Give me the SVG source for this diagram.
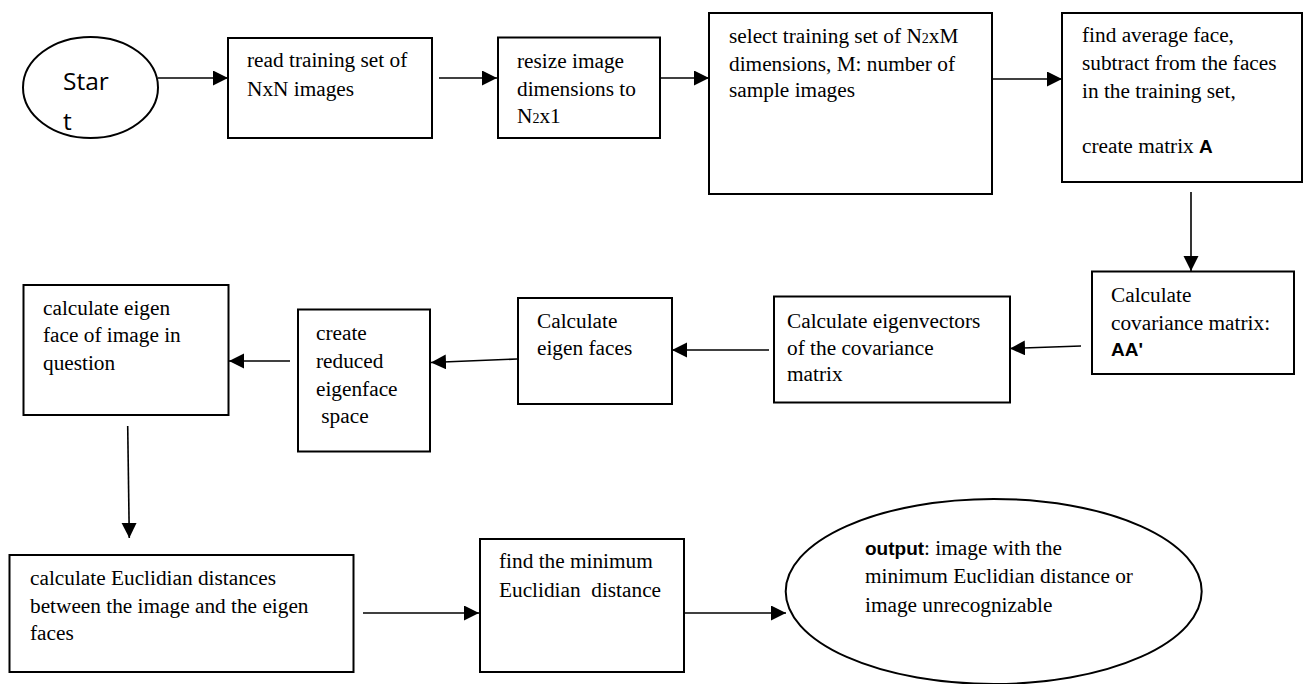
<svg xmlns="http://www.w3.org/2000/svg" width="1304" height="684" viewBox="0 0 1304 684">
<style>
.bg{fill:#ffffff}
.box{fill:#ffffff;stroke:#000;stroke-width:2}
.con{stroke:#000;stroke-width:1.6;fill:none}
.t{font-family:"Liberation Serif","Times New Roman",serif;font-size:21.3px;fill:#000;white-space:pre}
.s{font-family:"Open Sans","DejaVu Sans",sans-serif;font-size:24.5px;fill:#000}
.b{font-family:"Liberation Sans",Arial,sans-serif;font-weight:bold;font-size:19px}
.sub{font-size:14px}
</style>
<defs>
<marker id="ah" markerUnits="userSpaceOnUse" markerWidth="16" markerHeight="16" refX="15" refY="7.5" orient="auto">
<path d="M0,0 L15,7.5 L0,15 z" fill="#000"/>
</marker>
</defs>
<rect class="bg" x="0" y="0" width="1304" height="684"/>
<g id="connectors">
<line class="con" x1="158" y1="78" x2="228" y2="78" marker-end="url(#ah)"/>
<line class="con" x1="439" y1="78" x2="497" y2="78" marker-end="url(#ah)"/>
<line class="con" x1="660" y1="78" x2="709" y2="78" marker-end="url(#ah)"/>
<line class="con" x1="992" y1="79" x2="1062" y2="79" marker-end="url(#ah)"/>
<line class="con" x1="1191" y1="192" x2="1191" y2="271" marker-end="url(#ah)"/>
<line class="con" x1="1081" y1="346" x2="1010" y2="348.5" marker-end="url(#ah)"/>
<line class="con" x1="769" y1="350" x2="672" y2="350" marker-end="url(#ah)"/>
<line class="con" x1="517" y1="359" x2="431" y2="362.5" marker-end="url(#ah)"/>
<line class="con" x1="290" y1="361" x2="229" y2="361" marker-end="url(#ah)"/>
<line class="con" x1="127.7" y1="426" x2="129.3" y2="538" marker-end="url(#ah)"/>
<line class="con" x1="363" y1="613" x2="479" y2="613" marker-end="url(#ah)"/>
<line class="con" x1="684" y1="613" x2="786" y2="613" marker-end="url(#ah)"/>
</g>
<g id="start">
<ellipse class="box" cx="90.5" cy="87.5" rx="67.5" ry="50.5"/>
<text class="s" x="63" y="90">Star</text>
<text class="s" x="63" y="130">t</text>
</g>
<g id="read">
<rect class="box" x="228" y="38" width="204" height="100"/>
<text class="t" x="247" y="67">read training set of</text>
<text class="t" x="247" y="96">NxN images</text>
</g>
<g id="resize">
<rect class="box" x="498" y="37.5" width="162" height="100.5"/>
<text class="t" x="517" y="68">resize image</text>
<text class="t" x="517" y="96">dimensions to</text>
<text class="t" x="517" y="123">N<tspan class="sub">2</tspan>x1</text>
</g>
<g id="select">
<rect class="box" x="709" y="13" width="283" height="181"/>
<text class="t" x="729" y="43">select training set of N<tspan class="sub">2</tspan>xM</text>
<text class="t" x="729" y="70.5">dimensions, M: number of</text>
<text class="t" x="729" y="97">sample images</text>
</g>
<g id="average">
<rect class="box" x="1062" y="13" width="240" height="169"/>
<text class="t" x="1082" y="42">find average face,</text>
<text class="t" x="1082" y="70">subtract from the faces</text>
<text class="t" x="1082" y="98">in the training set,</text>
<text class="t" x="1082" y="153">create matrix <tspan class="b">A</tspan></text>
</g>
<g id="covariance">
<rect class="box" x="1092" y="271.5" width="202" height="102.5"/>
<text class="t" x="1111" y="301.5">Calculate</text>
<text class="t" x="1111" y="329.5">covariance matrix:</text>
<text class="t b" x="1111" y="356">AA'</text>
</g>
<g id="eigenvectors">
<rect class="box" x="774" y="296.5" width="236" height="106"/>
<text class="t" x="787" y="328">Calculate eigenvectors</text>
<text class="t" x="787" y="355">of the covariance</text>
<text class="t" x="787" y="381">matrix</text>
</g>
<g id="eigenfaces">
<rect class="box" x="518" y="298" width="154" height="106"/>
<text class="t" x="537" y="328">Calculate</text>
<text class="t" x="537" y="355">eigen faces</text>
</g>
<g id="reduced">
<rect class="box" x="298" y="309.5" width="132" height="142"/>
<text class="t" x="316" y="340">create</text>
<text class="t" x="316" y="368">reduced</text>
<text class="t" x="316" y="396">eigenface</text>
<text class="t" x="316" y="423"> space</text>
</g>
<g id="question">
<rect class="box" x="23.5" y="285" width="205" height="130"/>
<text class="t" x="43" y="315">calculate eigen</text>
<text class="t" x="43" y="342">face of image in</text>
<text class="t" x="43" y="370">question</text>
</g>
<g id="euclidian">
<rect class="box" x="9.5" y="555" width="344" height="117"/>
<text class="t" x="30" y="585">calculate Euclidian distances</text>
<text class="t" x="30" y="613">between the image and the eigen</text>
<text class="t" x="30" y="640">faces</text>
</g>
<g id="minimum">
<rect class="box" x="480" y="539" width="204" height="133"/>
<text class="t" x="499" y="568">find the minimum</text>
<text class="t" x="499" y="597">Euclidian  distance</text>
</g>
<g id="output">
<ellipse class="box" cx="993.7" cy="591.5" rx="208" ry="92.5"/>
<text class="t" x="865" y="555"><tspan class="b">output</tspan>: image with the</text>
<text class="t" x="865" y="583">minimum Euclidian distance or</text>
<text class="t" x="865" y="611.5">image unrecognizable</text>
</g>
</svg>
